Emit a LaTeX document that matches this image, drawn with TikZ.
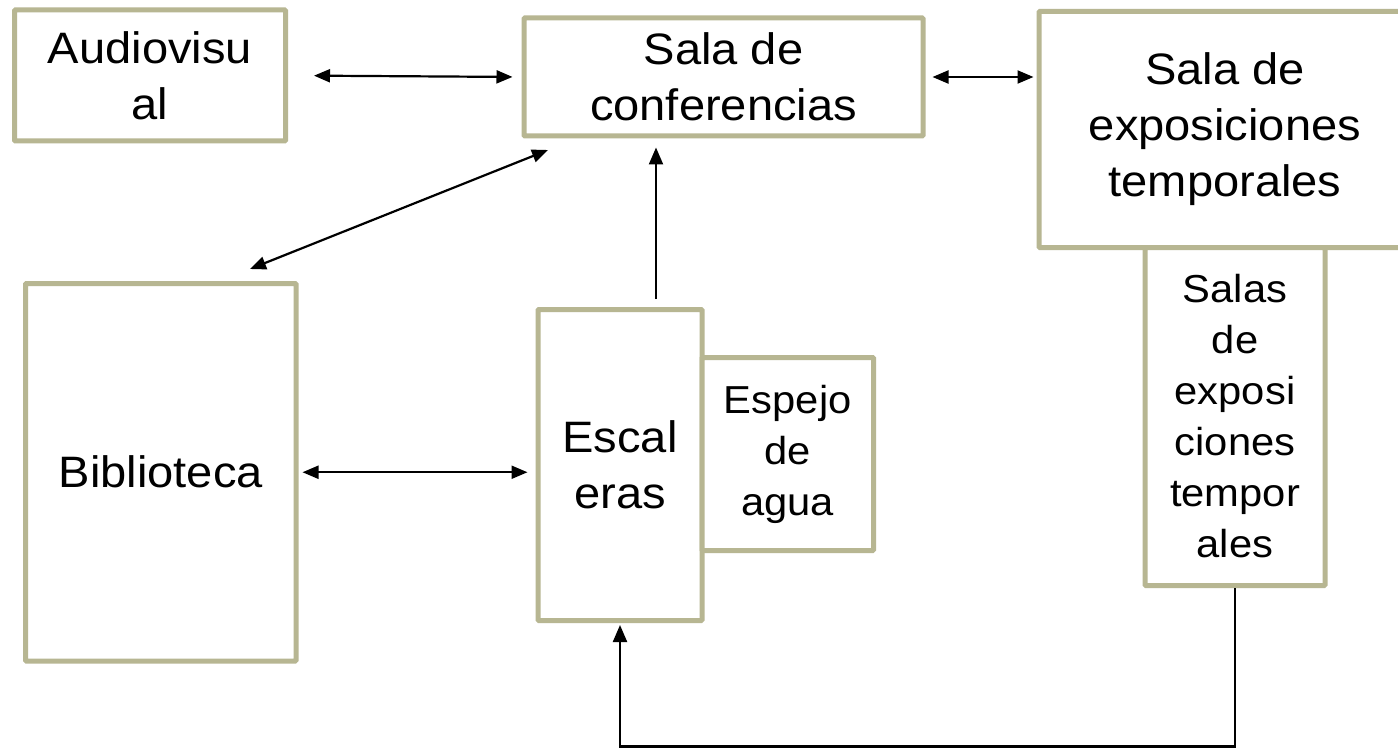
\documentclass[tikz,border=0pt]{standalone}
\usepackage{fontspec}
\setmainfont{Liberation Sans}[FakeStretch=1.07]
\usetikzlibrary{arrows.meta}
\definecolor{boxline}{RGB}{183,182,146}
\tikzset{
  roombox/.style={draw=boxline, line width=5pt, fill=white, inner sep=0pt, align=center,
    font=\fontsize{44}{56}\selectfont, rounded corners=1pt},
  smallbox/.style={roombox, font=\fontsize{39}{51}\selectfont},
  conn/.style={line width=2.2pt, black},
  tip/.style={-{Triangle[length=17pt,width=14pt]}},
  dtip/.style={{Triangle[length=16pt,width=13pt]}-{Triangle[length=16pt,width=13pt]}}
}
\begin{document}
\begin{tikzpicture}[x=1pt,y=-1pt]
\useasboundingbox (0,0) rectangle (1398,749);
\fill[white] (0,0) rectangle (1398,749);
\node[roombox, minimum width=271pt, minimum height=131pt] (audio) at (150,75.5) {Audiovisu\\al};
\node[roombox, minimum width=399pt, minimum height=118pt] (conf) at (723.5,77) {Sala de\\conferencias};
\node[roombox, minimum width=372pt, minimum height=236pt] (exp) at (1225,129.5) {Sala de\\exposiciones\\temporales};
\node[smallbox, minimum width=180pt, minimum height=338pt] (salas) at (1235,416.5) {Salas\\de\\exposi\\ciones\\tempor\\ales};
\node[roombox, minimum width=270.5pt, minimum height=377.5pt] (biblio) at (160.75,472.25) {Biblioteca};
\node[roombox, minimum width=164pt, minimum height=311pt] (escal) at (620,465) {Escal\\eras};
\node[smallbox, minimum width=171.5pt, minimum height=193pt] (espejo) at (787.75,454) {Espejo\\de\\agua};
% connectors
\draw[conn, dtip, shorten <=26pt, shorten >=9pt] (audio.east) -- (conf.west);
\draw[conn, dtip, shorten <=7pt, shorten >=3pt] (conf.east) -- (conf.east -| exp.west);
\coordinate (d1) at (250,269);
\coordinate (d2) at (548,150);
\draw[conn, dtip] (d1) -- (d2);
\coordinate (up1) at (656,299);
\draw[conn, tip, shorten >=9pt] (up1) -- (up1 |- conf.south);
\draw[conn, dtip, shorten <=4pt, shorten >=8pt] (biblio.east) -- (biblio.east -| escal.west);
\coordinate (bot) at (0,746.5);
\draw[conn, tip, shorten >=2pt] (salas.south) -- (salas.south |- bot) -- (escal.south |- bot) -- (escal.south);
\end{tikzpicture}
\end{document}
